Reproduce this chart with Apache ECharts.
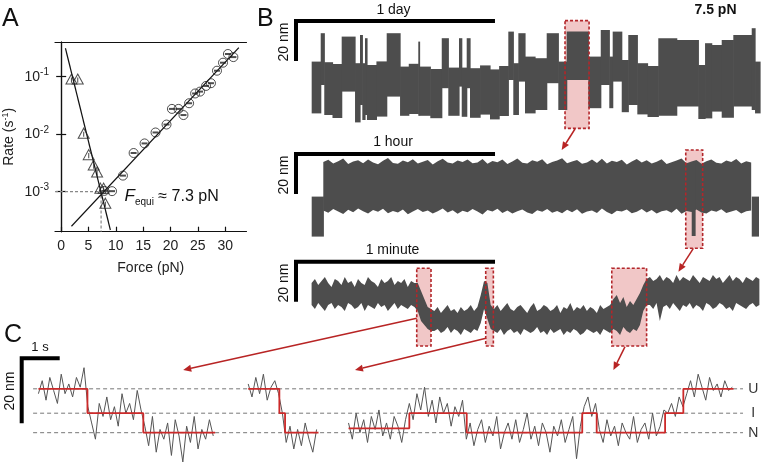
<!DOCTYPE html>
<html><head><meta charset="utf-8">
<script src="https://cdn.jsdelivr.net/npm/echarts@6/dist/echarts.min.js"></script>
<style>html,body{margin:0;padding:0;background:#fff}#c{width:762px;height:465px}</style>
</head><body><div id="c"></div>
<script>
// ---------- Panel A: rates vs force ----------
const triForce = [1.88, 3.03, 4.12, 5.04, 5.95, 6.57, 7.17, 7.77, 8.08];
const triRate  = [0.091, 0.091, 0.0104, 0.0044, 0.0029, 0.0022, 0.00115, 0.00115, 0.00063];
const cirForce = [7.9, 9.3, 11.3, 13.25, 15.25, 17.26, 19.27, 20.26, 21.46, 22.37, 23.4, 24.5, 25.4, 26.5, 27.4, 28.5, 29.6, 30.5, 31.5];
const cirRate  = [0.00103, 0.00102, 0.0019, 0.0047, 0.0069, 0.0107, 0.0147, 0.0275, 0.0275, 0.0215, 0.0345, 0.051, 0.055, 0.069, 0.077, 0.127, 0.175, 0.248, 0.219];
const triFitForce = [0.78, 9.0];
const triFitRate  = [0.312, 0.000215];
const cirFitForce = [1.88, 32.5];
const cirFitRate  = [0.00025, 0.319];
const fEqui = 7.3;
const rateEqui = 0.001;
const forceTicks = [0, 5, 10, 15, 20, 25, 30];
const rateTicks = [0.001, 0.01, 0.1];

// ---------- Panel B: 1 day trace (hours, nm) ----------
const dayEdges = [1.89, 2.98, 3.41, 4.4, 5.51, 7.12, 7.72, 8.0, 8.32, 8.56, 9.7, 10.94, 12.55, 13.6, 14.75, 14.9, 16.2, 17.58, 18.37, 19.66, 19.99, 20.59, 20.99, 22.2, 23.4, 24.5, 25.61, 26.21, 26.82, 27.62, 28.83, 30.24, 31.64, 32.65, 35.26, 36.76, 37.79, 38.2, 39.29, 40.08, 41.17, 42.4, 43.7, 45.92, 48.53, 49.34, 50.14, 51.35, 52.75, 54.97, 55.37, 55.97];
const dayHigh = [25.7, 39.9, 25.4, 24.5, 38.2, 24.9, 39, 24.9, 37.4, 24, 25.8, 39.9, 23.2, 24.6, 35.7, 23.2, 22, 37.4, 22.7, 37.4, 22.7, 37.4, 22.4, 23.8, 21.8, 23.5, 40.7, 24.9, 39.9, 28.2, 27.4, 39.9, 25.7, 40.7, 28.2, 41.5, 28.2, 40.7, 26.5, 39, 24.9, 23.5, 37.4, 36.5, 24, 34.9, 34, 36.5, 39, 42.4, 25.7];
const dayLow  = [-0.2, 14, -1, -2.5, 10.7, -4.7, 4, -3.5, -1, -3.5, -1.8, 8.2, -1.4, -0.5, -1.4, -1.4, -2.6, 12.4, -1.4, 13.2, -1.9, 12.4, -2.4, -0.8, -3.2, -1.5, 16.5, -1, 15.7, -0.2, 1.5, 14.9, 1.5, 16.5, 2.4, 14, 2.4, 15.7, 0.4, 4, -0.7, -2, -1.4, 3.2, -3, -2.7, 0.7, -2.4, 3.2, 1.5, -0.2];
const dayBox = [[32.45, 35.35, 46.2, -7.7]];
const dayBar = [[24, 46], [0, 46], [0, 26]];

// ---------- Panel B: 1 hour trace (minutes, nm) ----------
const hourEdges = [4.73, 8.23, 119.3, 120.3, 137.4, 139.4];
const hourHigh = [20.2, 0, 37, 0, 20.2];
const hourLow  = [0.2, 0, 0.5, 0, 0.2];
const hourBandT0 = 8.23, hourBandDt = 1.5;
const hourBandHigh = [37.5,38.6,36.8,37.9,39.2,36.5,37.7,38.4,36.9,38.8, 37.2,36.4,38.1,39.5,37.0,36.6,38.3,37.4,38.9,36.8,
  37.6,38.5,36.3,37.9,39.1,37.2,36.7,38.2,37.5,38.8, 36.9,37.3,39.0,36.6,38.0,37.4,38.7,36.5,37.8,39.3,
  37.1,36.8,38.4,37.6,38.9,36.4,37.5,38.2,39.4,36.9, 37.7,38.5,36.6,37.3,38.8,37.0,39.1,36.7,38.1,37.5,
  38.6,36.3,37.8,39.0,37.2,38.4,36.8,37.6,38.9,36.5, 37.4,38.2,39.2,36.9,37.7,38.5,36.6,37.9,38.7,37.1,
  36.8,38.3,37.5,39.0,36.7,37.9,37.2];
const hourBandLow = [13.2,12.1,14.0,12.8,11.5,13.6,12.4,14.2,12.9,11.8, 13.5,12.6,14.1,11.9,13.0,12.3,13.8,11.4,12.7,14.0,
  12.5,13.3,11.7,12.9,14.2,12.2,13.4,11.6,13.1,12.4, 14.0,12.7,11.3,13.5,12.8,14.1,12.0,13.2,11.8,12.9,
  13.7,12.3,11.5,13.4,12.6,14.0,12.1,13.0,11.9,13.6, 12.4,13.9,11.6,12.8,13.3,12.0,14.2,12.5,11.4,13.1,
  12.7,13.8,11.9,12.6,14.0,12.2,13.5,11.7,12.9,13.4, 12.1,14.1,11.6,13.0,12.5,13.7,12.3,11.8,13.2,12.6,
  13.9,12.0,12.8,13.5,11.7,12.9,13.3];
const hourBox = [[117.5, 122.6, 43.5, -5.65]];
const hourBar = [[60, 41.5], [0, 41.5], [0, 21.5]];

// ---------- Panel B: 1 minute trace (seconds, nm) ----------
const minT0 = 4.7, minDt = 1.0;
const minHigh = [26,28,25,27,29,26,24,28,27,25,29,26,27,24,28,26,25,29,27,26,24,28,26,27,29,25,27,26,28,24,27,26,
  26,22,18,14,13,
  12,14,11,13,15,12,13,11,14,12,13,15,12,14,
  20,27,26,15,
  13,15,12,14,16,13,12,14,15,13,11,14,16,12,13,15,14,12,13,15,11,14,13,16,12,14,13,15,12,14,13,11,15,13,14,
  15,18,20,16,19,14,17,15,18,
  21,25,28,
  29,27,28,30,27,29,28,26,30,27,29,28,27,30,28,26,29,28,27,30,28,29,26,28,30,27,29,28,26,29,28,27,29,28];
const minLow = [15,13,16,14,12,15,16,13,15,14,12,16,15,13,14,16,12,15,14,13,16,14,15,12,14,16,13,15,14,13,15,14,
  12,7,5,3,2,
  2,3,1,2,4,1,3,2,0,3,2,1,3,2,
  6,13,8,3,
  2,1,3,0,2,3,1,2,0,3,2,1,2,4,1,2,0,3,1,2,3,0,2,1,3,2,0,1,3,2,1,2,0,3,2,
  1,3,2,0,4,2,1,3,2,
  5,12,15,
  15,13,16,7,14,15,13,16,14,12,15,14,16,13,15,14,12,16,15,13,14,16,15,13,14,12,16,15,14,13,15,16,14,15];
const minBoxes = [[36.4, 40.7, 33.4, -5.5], [57.2, 59.5, 33.4, -5.5], [95.2, 105.7, 33.4, -5.5]];
const minBar = [[60, 36.65], [0, 36.65], [0, 16.65]];

// ---------- Panel C: seconds, nm ----------
const cDt = 0.1;
const c1T0 = 0.44, c2T0 = 5.96, c3T0 = 8.6;
const c1Vals = [12,16,10,17,13,9,18,12,15,11,17,14,20, 8,3,-2,9,5,11,4,8,2,12,6,9,4,13,7, 2,-4,5,-6,1,-2,3,-7,4,-1,-9,2,-3,5,-5,1,-2,4,-1];
const c2Vals = [15,11,17,12,18,10,14,16,12, 6, -3,2,-5,1,-4,3,-2,-6,1];
const c3Vals = [3,-2,6,0,4,-3,5,1,7,-1,3,-2,5,2,-3,4,
  9,4,12,7,14,5,10,3,11,6,9,2,8,5,10,
  -2,3,-4,1,4,-3,2,-1,5,-5,0,3,-2,4,-3,1,6,-2,2,-4,3,0,-6,2,-1,4,-3,1,5,-8,2,
  8,11,5,9,
  1,-3,4,-1,2,-4,3,0,-2,5,-3,1,3,-2,6,-1,2,7,
  6,9,5,11,8,
  12,16,11,18,14,10,17,13,15,11,16,13,14];
const c1StepT = [0.44, 1.73, 3.2, 5.09],  c1StepL = [13.5, 6, 0, 0];
const c2StepT = [5.96, 6.78, 6.93, 7.81], c2StepL = [13.5, 6, 0, 0];
const c3StepT = [8.6, 10.2, 11.71, 14.75, 15.13, 16.93, 17.41, 18.73];
const c3StepL = [1.35, 6, 0, 6, 0, 6, 13.5, 13.5];
const levelNames = ['U', 'I', 'N'];
const levelValues = [13.5, 6, 0];
const levelSpan = [0.3, 18.98];
const cBar = [[1, 22.9], [0, 22.9], [0, 2.9]];

// ---------- helpers ----------
const FONT = '"Liberation Sans", Arial, Helvetica, sans-serif';
const TRACE = '#4d4d4d';
const BOXFILL = '#f1c7c7';
const BOXLINE = '#b3262a';
const STEP = '#cc2a2a';
const ARROW = '#b82424';

function pairs(a, b) { return a.map((v, i) => [v, b[i]]); }
function runs(edges, hi, lo) { return hi.map((h, i) => [edges[i], edges[i + 1], h, lo[i]]).filter(r => r[2] !== r[3]); }
function sampled(t0, dt, vals) { return vals.map((v, i) => [+(t0 + i * dt).toFixed(3), v]); }
function rectFrom(api) {
  const p0 = api.coord([api.value(0), api.value(2)]);
  const p1 = api.coord([api.value(1), api.value(3)]);
  return { x: p0[0], y: p0[1], width: p1[0] - p0[0], height: p1[1] - p0[1] };
}
function runSeries(ai, data) {
  return { type: 'custom', xAxisIndex: ai, yAxisIndex: ai, data, z: 3, silent: true,
    renderItem: (p, api) => { const r = rectFrom(api); r.width += 0.6; return { type: 'rect', shape: r, style: { fill: TRACE } }; } };
}
// band drawn as one filled polygon between a sampled upper and lower envelope
function bandSeries(ai, t0, dt, hi, lo) {
  const data = hi.map((h, i) => [+(t0 + i * dt).toFixed(3), h, lo[i]]);
  return { type: 'custom', xAxisIndex: ai, yAxisIndex: ai, data, z: 3, silent: true,
    renderItem: (p, api) => {
      if (p.dataIndex !== 0) return null;
      const top = data.map(d => api.coord([d[0], d[1]]));
      const bot = data.map(d => api.coord([d[0], d[2]])).reverse();
      return { type: 'polygon', shape: { points: top.concat(bot) }, style: { fill: TRACE } };
    } };
}
function boxFill(ai, data) {
  return { type: 'custom', xAxisIndex: ai, yAxisIndex: ai, data, z: 1, silent: true,
    renderItem: (p, api) => ({ type: 'rect', shape: rectFrom(api), style: { fill: BOXFILL } }) };
}
function boxLine(ai, data) {
  return { type: 'custom', xAxisIndex: ai, yAxisIndex: ai, data, z: 6, silent: true,
    renderItem: (p, api) => ({ type: 'rect', shape: rectFrom(api), style: { fill: 'none', stroke: BOXLINE, lineWidth: 1.6, lineDash: [3, 2] } }) };
}
function barSeries(ai, data) {
  return { type: 'line', xAxisIndex: ai, yAxisIndex: ai, data, symbol: 'none', silent: true, z: 5,
    lineStyle: { color: '#000', width: 4, cap: 'butt', join: 'miter' } };
}
function noiseSeries(ai, data, color) {
  return { type: 'line', xAxisIndex: ai, yAxisIndex: ai, data, symbol: 'none', silent: true, z: 3,
    lineStyle: { color, width: 1 } };
}
function stepSeries(data) {
  return { type: 'line', xAxisIndex: 5, yAxisIndex: 5, data, step: 'end', symbol: 'none', silent: true, z: 4,
    lineStyle: { color: STEP, width: 1.8 } };
}
function hiddenX(gi, min, max) { return { type: 'value', gridIndex: gi, min, max, show: false }; }
function hiddenY(gi, min, max) { return { type: 'value', gridIndex: gi, min, max, show: false }; }

const aXmin = -1.13, aXmax = 33.9, aYmin = 0.000201, aYmax = 0.401;
const axisCol = '#111';

const chart = echarts.init(document.getElementById('c'), null, { renderer: 'canvas' });

const series = [
  // Panel A
  { type: 'line', xAxisIndex: 0, yAxisIndex: 0, data: [[aXmin, rateEqui], [fEqui, rateEqui], [fEqui, aYmin]], symbol: 'none', silent: true, z: 1,
    lineStyle: { color: '#888', width: 1.2, type: [3, 2] } },
  { type: 'line', xAxisIndex: 0, yAxisIndex: 0, data: pairs(triFitForce, triFitRate), symbol: 'none', silent: true, z: 2,
    lineStyle: { color: '#111', width: 1.2 } },
  { type: 'line', xAxisIndex: 0, yAxisIndex: 0, data: pairs(cirFitForce, cirFitRate), symbol: 'none', silent: true, z: 2,
    lineStyle: { color: '#111', width: 1.2 } },
  { type: 'scatter', xAxisIndex: 0, yAxisIndex: 0, data: pairs(triForce, triRate), silent: true, z: 3,
    symbol: 'path://M10,0L20,17.3L0,17.3ZM10,6L10,15', symbolSize: [11, 10],
    itemStyle: { color: 'rgba(0,0,0,0)', borderColor: '#222', borderWidth: 1 } },
  { type: 'scatter', xAxisIndex: 0, yAxisIndex: 0, data: pairs(cirForce, cirRate), silent: true, z: 3,
    symbol: 'path://M0,10A10,10 0 1,1 20,10A10,10 0 1,1 0,10Z', symbolSize: 9,
    itemStyle: { color: 'rgba(0,0,0,0)', borderColor: '#222', borderWidth: 1 } },
  { type: 'scatter', xAxisIndex: 0, yAxisIndex: 0, data: pairs(cirForce, cirRate), silent: true, z: 3,
    symbol: 'rect', symbolSize: [6, 2], itemStyle: { color: '#222' } },
  // Panel B day
  boxFill(2, dayBox), runSeries(2, runs(dayEdges, dayHigh, dayLow)), boxLine(2, dayBox), barSeries(2, dayBar),
  // Panel B hour
  boxFill(3, hourBox), bandSeries(3, hourBandT0, hourBandDt, hourBandHigh, hourBandLow),
  runSeries(3, runs(hourEdges, hourHigh, hourLow)), boxLine(3, hourBox), barSeries(3, hourBar),
  // Panel B minute
  boxFill(4, minBoxes), bandSeries(4, minT0, minDt, minHigh, minLow), boxLine(4, minBoxes), barSeries(4, minBar),
  // Panel C
  ...levelValues.map(v => ({ type: 'line', xAxisIndex: 5, yAxisIndex: 5, data: [[levelSpan[0], v], [levelSpan[1], v]], symbol: 'none', silent: true, z: 1,
    lineStyle: { color: '#777', width: 1, type: [4, 3] } })),
  noiseSeries(5, sampled(c1T0, cDt, c1Vals), '#555'),
  noiseSeries(5, sampled(c2T0, cDt, c2Vals), '#555'),
  noiseSeries(5, sampled(c3T0, cDt, c3Vals), '#555'),
  stepSeries(pairs(c1StepT, c1StepL)),
  stepSeries(pairs(c2StepT, c2StepL)),
  stepSeries(pairs(c3StepT, c3StepL)),
  barSeries(5, cBar)
];

chart.setOption({
  animation: false,
  textStyle: { fontFamily: FONT },
  grid: [
    { left: 54.5, top: 42, width: 192, height: 189.7 },
    { left: 290, top: 13, width: 472, height: 110 },
    { left: 290, top: 140, width: 472, height: 110 },
    { left: 290, top: 250, width: 472, height: 100 },
    { left: 0, top: 340, width: 762, height: 125 }
  ],
  xAxis: [
    { type: 'value', gridIndex: 0, min: aXmin, max: aXmax, position: 'bottom',
      axisLine: { lineStyle: { color: axisCol, width: 1.2 } },
      axisTick: { inside: true, length: 5, customValues: forceTicks, lineStyle: { color: axisCol, width: 1.2 } },
      axisLabel: { customValues: forceTicks, fontSize: 14, color: '#222', margin: 7, fontFamily: FONT },
      splitLine: { show: false },
      name: 'Force (pN)', nameLocation: 'middle', nameGap: 29, nameTextStyle: { fontSize: 14, color: '#222', fontFamily: FONT } },
    { type: 'value', gridIndex: 0, min: aXmin, max: aXmax, position: 'top',
      axisLine: { lineStyle: { color: axisCol, width: 1.2 } }, axisTick: { show: false }, axisLabel: { show: false }, splitLine: { show: false } },
    hiddenX(1, -0.724, 56.21),
    hiddenX(2, -1.809, 140.49),
    hiddenX(3, -1.809, 140.49),
    hiddenX(4, -0.571, 19.48)
  ],
  yAxis: [
    { type: 'log', logBase: 10, gridIndex: 0, min: aYmin, max: aYmax, position: 'left',
      axisLine: { show: true, lineStyle: { color: axisCol, width: 1.2 } },
      axisTick: { inside: true, length: 5, customValues: rateTicks, lineStyle: { color: axisCol, width: 1.2 } },
      minorTick: { show: false },
      axisLabel: { customValues: rateTicks, fontSize: 14, color: '#222', margin: 6, fontFamily: FONT,
        formatter: v => '10{sup|' + Math.round(Math.log10(v)) + '}',
        rich: { sup: { fontSize: 10, padding: [0, 0, 8, 0], color: '#222', fontFamily: FONT } } },
      splitLine: { show: false },
      name: 'Rate (s{sup|-1})', nameLocation: 'middle', nameGap: 38, nameRotate: 90,
      nameTextStyle: { fontSize: 14, color: '#222', fontFamily: FONT,
        rich: { sup: { fontSize: 9, padding: [0, 0, 7, 0], color: '#222', fontFamily: FONT } } } },
    { type: 'log', logBase: 10, gridIndex: 0, min: aYmin, max: aYmax, position: 'right',
      axisLine: { show: true, lineStyle: { color: axisCol, width: 1.2 } },
      axisTick: { inside: true, length: 5, customValues: rateTicks, lineStyle: { color: axisCol, width: 1.2 } },
      axisLabel: { show: false }, splitLine: { show: false } },
    hiddenY(1, -5, 50),
    hiddenY(2, -6.5, 48.5),
    hiddenY(3, -7.5, 42.5),
    hiddenY(4, -9.94, 28.52)
  ],
  series
});

// ---------- annotations ----------
// grid index -> its axis pair (grid 0 uses axes 0, grid g>0 uses axes g+1)
function toPx(gi, pt) {
  const ai = gi === 0 ? 0 : gi + 1;
  return chart.convertToPixel({ xAxisIndex: ai, yAxisIndex: ai }, pt);
}
function arrowEls(from, to) {
  const dx = to[0] - from[0], dy = to[1] - from[1];
  const L = Math.hypot(dx, dy), ux = dx / L, uy = dy / L;
  const hl = 8, hw = 3.5;
  const bx = to[0] - ux * hl, by = to[1] - uy * hl;
  return [
    { type: 'line', z: 100, shape: { x1: from[0], y1: from[1], x2: bx, y2: by }, style: { stroke: ARROW, lineWidth: 1.5 } },
    { type: 'polygon', z: 100, shape: { points: [[to[0], to[1]], [bx - uy * hw, by + ux * hw], [bx + uy * hw, by - ux * hw]] }, style: { fill: ARROW } }
  ];
}
const arrows = [
  [1, [33.65, -8], 2, [80.1, 43.5]],
  [2, [119.8, -5.65], 3, [115.3, 31.65]],
  [3, [36.4, 8.35], 4, [4.25, 19.3]],
  [3, [57.3, -1.65], 4, [8.77, 19.3]],
  [3, [99.2, -5.85], 4, [15.57, 19.3]]
];
function txt(text, x, y, opt) {
  return { type: 'text', z: 100, x, y, style: Object.assign({ text, fontFamily: FONT, fontSize: 14, fill: '#111', align: 'center', verticalAlign: 'middle' }, opt || {}) };
}
function vtxt(text, x, y, size) {
  return { type: 'text', z: 100, x, y, rotation: Math.PI / 2, style: { text, fontFamily: FONT, fontSize: size || 14, fill: '#111', align: 'center', verticalAlign: 'middle' } };
}
const els = [];
arrows.forEach(a => {
  const f = toPx(a[0], a[1]), t = toPx(a[2], a[3]);
  if (f && t) els.push(...arrowEls(f, t));
});
els.push(txt('A', 2, 7, { fontSize: 25, align: 'left', verticalAlign: 'top' }));
els.push(txt('B', 257, 7, { fontSize: 25, align: 'left', verticalAlign: 'top' }));
els.push(txt('C', 4, 323, { fontSize: 25, align: 'left', verticalAlign: 'top' }));
els.push(txt('1 day', 393.5, 10));
els.push(txt('7.5 pN', 715.5, 10, { fontWeight: 'bold' }));
els.push(txt('1 hour', 393, 142));
els.push(txt('1 minute', 392.5, 250));
els.push(txt('1 s', 40, 347, { fontSize: 13 }));
els.push(vtxt('20 nm', 284, 42));
els.push(vtxt('20 nm', 284, 175));
els.push(vtxt('20 nm', 284, 283));
els.push(vtxt('20 nm', 10, 391));
const fp = toPx(0, [11.6, rateEqui]) || [124, 192];
els.push({ type: 'text', z: 100, x: fp[0], y: fp[1] + 5, style: {
  text: '{f|F}{s|equi}{n| \u2248 7.3 pN}', fontFamily: FONT, align: 'left', verticalAlign: 'middle',
  rich: { f: { fontSize: 17, fontStyle: 'italic', fontFamily: FONT, fill: '#111' },
          s: { fontSize: 10, padding: [12, 0, 0, 0], fontFamily: FONT, fill: '#111' },
          n: { fontSize: 16, fontFamily: FONT, fill: '#111' } } } });
levelNames.forEach((n, i) => {
  const p = toPx(4, [19.25, levelValues[i]]);
  if (p) els.push(txt(n, p[0], p[1], { fill: '#333' }));
});
chart.setOption({ graphic: { elements: els } });
</script>
</body></html>
